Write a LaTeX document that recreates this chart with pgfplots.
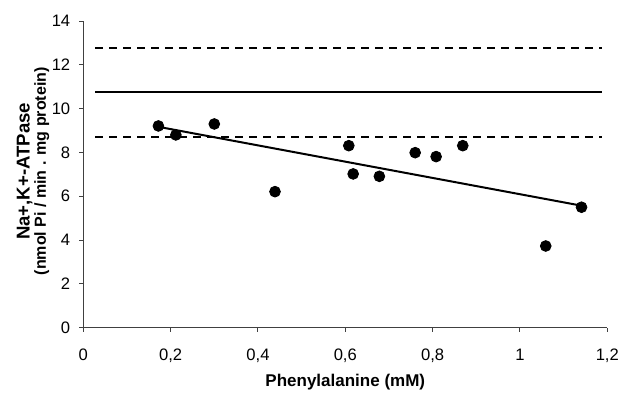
\documentclass[border=0pt]{standalone}
\usepackage{fontspec}
\setmainfont{Liberation Sans}
\usepackage{pgfplots}
\pgfplotsset{compat=1.18}
\begin{document}
\begin{tikzpicture}
\begin{axis}[
  scale only axis, width=262pt, height=153.35pt,
  xmin=0, xmax=1.2, ymin=0, ymax=14,
  axis x line*=bottom, axis y line*=left,
  axis line style={black!75, line width=0.6pt},
  xtick={0,0.2,0.4,0.6,0.8,1,1.2}, ytick={0,2,4,6,8,10,12,14},
  tick align=outside, major tick length=2pt,
  tick style={black!75, line width=0.5pt},
  /pgf/number format/assume math mode=true,
  /pgf/number format/use comma,
  ticklabel style={font=\fontsize{8.3}{9}\selectfont},
  xticklabel shift=5pt,
  yticklabel shift=1pt,
  xlabel={Phenylalanine (mM)},
  xlabel style={at={(axis description cs:0.5,-0.178)}, anchor=center, font=\bfseries\fontsize{8.5}{9}\selectfont},
  ylabel={{\fontsize{9.3}{8.2}\selectfont Na+,K+-ATPase}\\{\fontsize{8}{8.2}\selectfont (nmol Pi / min . mg protein)}},
  ylabel style={at={(axis description cs:-0.096,0.51)}, anchor=center, align=center, font=\bfseries\fontsize{8.5}{8.2}\selectfont},
  clip=false,
]
\addplot[black, line width=0.9pt, dash pattern=on 4pt off 3pt] coordinates {(0.027,12.78) (1.187,12.78)};
\addplot[black, line width=1pt] coordinates {(0.027,10.78) (1.187,10.78)};
\addplot[black, line width=0.9pt, dash pattern=on 4pt off 3pt] coordinates {(0.027,8.71) (1.187,8.71)};
\addplot[black, line width=1pt] coordinates {(0.172,9.17) (1.141,5.57)};
\addplot[only marks, mark=*, mark size=2.7pt, black] coordinates {
(0.172,9.21) (0.212,8.80) (0.300,9.30) (0.439,6.21) (0.608,8.31) (0.618,7.02)
(0.678,6.91) (0.760,7.99) (0.808,7.81) (0.869,8.31) (1.059,3.73) (1.141,5.50)};
\end{axis}
\pgfresetboundingbox
\path ([shift={(-41.65pt,-32.65pt)}]current axis.south west) rectangle ([shift={(6.85pt,10.5pt)}]current axis.north east);
\end{tikzpicture}
\end{document}
